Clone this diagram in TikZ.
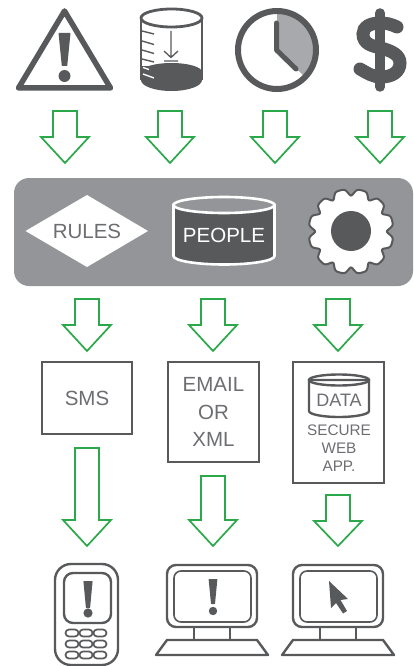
\documentclass[tikz,border=0pt]{standalone}
\usepackage{fontspec}
\setmainfont{Liberation Sans}
\definecolor{dk}{HTML}{58595B}
\definecolor{pan}{HTML}{939598}
\definecolor{lt}{HTML}{A7A9AC}
\definecolor{grn}{HTML}{2BA84A}
\definecolor{txt}{HTML}{6D6E71}
\tikzset{
 garrow/.style={draw=grn,line width=1.7pt,fill=white,line join=miter},
 thinicon/.style={draw=dk,line width=2.4pt,line join=round},
 box/.style={draw=dk,line width=2.4pt,fill=white,inner sep=0pt},
 lbl/.style={text=txt,font=\fontsize{20.5}{25}\selectfont,align=center,inner sep=0pt},
 smalllbl/.style={text=txt,font=\fontsize{15.3}{18}\selectfont,align=center,inner sep=0pt},
}
\newcommand{\garr}[4]{\draw[garrow] (#1-12,#2) -- (#1+12,#2) -- (#1+12,#3) -- (#1+24,#3) -- (#1,#4) -- (#1-24,#3) -- (#1-12,#3) -- cycle;}
\newcommand{\excl}[6]{\fill[dk,rounded corners=0.5pt] (#1-#3,#2) -- (#1+#3,#2) -- (#1+#3*0.45,#4) -- (#1-#3*0.45,#4) -- cycle; \fill[dk] (#1,#5) circle (#6);}
\newcommand{\monitor}[1]{%
 \draw[thinicon] (#1+27,627) -- (#1+27,640) (#1+63,627) -- (#1+63,640);
 \draw[thinicon,rounded corners=9pt] (#1,565) rectangle (#1+90,627);
 \draw[draw=dk,line width=1.6pt,rounded corners=7pt] (#1+7,571) rectangle (#1+84,622);
 \draw[thinicon] (#1,640) -- (#1+90,640) -- (#1+101,655) -- (#1-11,655) -- cycle;}
\begin{document}
\begin{tikzpicture}[x=1pt,y=-1pt]
\useasboundingbox (0,0) rectangle (414,666);
% warning triangle
\draw[draw=dk,line width=5.5pt,line join=round] (64.5,11) -- (110.5,88) -- (18.5,88) -- cycle;
\excl{64.5}{33}{6}{66}{76}{6}
% beaker
\fill[dk] (141,72) arc[start angle=180,end angle=360,x radius=30.5,y radius=9] -- (202,80) arc[start angle=0,end angle=180,x radius=30.5,y radius=11] -- cycle;
\draw[draw=dk,line width=2.8pt] (141,18) -- (141,80) (202,18) -- (202,80);
\draw[draw=dk,line width=2.8pt] (171.5,18) ellipse (30.5 and 9);
\draw[draw=dk,line width=1.4pt] (142,31) -- (154,34) (142,41) -- (154,44.5) (142,50) -- (154,53.5) (142,59) -- (154,62);
\fill[dk] (141,66) -- (152,66) -- (152,72) -- (141,72) -- cycle;
\draw[draw=white,line width=1.4pt] (143,67.5) -- (149,69.5) (143,74) -- (154,78);
\draw[draw=dk,line width=1.3pt] (171,31) -- (171,57) (164,51) -- (171,57.5) -- (178,51) (164,61) -- (178,61);
% clock
\fill[lt] (277,50) -- (277,11) arc[start angle=-90,end angle=44,radius=39] -- cycle;
\draw[draw=dk,line width=6pt] (277,50) circle (39);
\draw[draw=dk,line width=5pt,line cap=round,line join=round] (276.5,23) -- (276.5,50) -- (296,69);
% dollar
\draw[draw=dk,line width=9.5pt,line cap=round] (380,13) -- (380,87);
\draw[draw=dk,line width=13pt,line cap=round] (397,27) .. controls (391,24) and (386,23) .. (380,23) .. controls (370,23) and (363,27) .. (363,34) .. controls (363,44) and (372,46) .. (381,48) .. controls (392,51) and (400,55) .. (400,63) .. controls (400,72) and (392,77) .. (381,77) .. controls (373,77) and (367,73) .. (360,69);
% top arrows
\garr{65}{111}{137}{163}
\garr{170}{111}{137}{163}
\garr{275}{111}{137}{163}
\garr{380}{111}{137}{163}
% panel
\fill[pan,rounded corners=15pt] (14,178) rectangle (413,286);
\fill[white] (25.5,231) -- (87,195) -- (148,231) -- (87,267) -- cycle;
\node[lbl] (rules) at (87,231) {RULES};
% people cylinder
\filldraw[fill=dk,draw=white,line width=2.6pt] (173.5,205) -- (173.5,256) arc[start angle=180,end angle=0,x radius=50.5,y radius=8.5] -- (274.5,205) -- cycle;
\filldraw[fill=pan,draw=white,line width=2.6pt] (224,205) ellipse (50.5 and 8);
\node[lbl,text=white] (people) at (224,235) {PEOPLE};
% gear
\filldraw[fill=white,draw=dk,line width=2pt,smooth,samples=361,domain=0:360] plot ({351+(42.5-6.5*pow(abs(cos(6*\x)),5))*cos(\x)},{231.5+(42.5-6.5*pow(abs(cos(6*\x)),5))*sin(\x)}) -- cycle;
\fill[dk] (351,231) circle (20);
% row 2 arrows
\garr{87}{299}{325}{351}
\garr{213}{299}{325}{351}
\garr{338}{299}{325}{351}
% boxes
\node[box,minimum width=90pt,minimum height=72pt,lbl] (sms) at (87,398) {SMS};
\node[box,minimum width=91pt,minimum height=100pt,lbl,font=\fontsize{20.5}{27.5}\selectfont] (email) at (213.5,412) {EMAIL\\OR\\XML};
\node[box,minimum width=91pt,minimum height=121pt] (data) at (338.5,422.5) {};
\filldraw[fill=white,draw=dk,line width=2.4pt] (309,380) -- (309,411) arc[start angle=180,end angle=0,x radius=30,y radius=6] -- (369,380) -- cycle;
\draw[draw=dk,line width=2.4pt] (339,380) ellipse (30 and 5.5);
\node[lbl,font=\fontsize{18}{20}\selectfont] (datat) at (339,400) {DATA};
\node[smalllbl] (sec) at (339,448) {SECURE\\WEB\\APP.};
% row 3 arrows
\garr{87}{448}{520}{546}
\garr{213}{476}{520}{546}
\garr{338}{495}{521}{546}
% phone
\draw[thinicon,rounded corners=16pt] (55,564) rectangle (118,665);
\draw[thinicon,rounded corners=9pt] (64,573) rectangle (111,623);
\excl{88}{581}{4.6}{608}{613}{4.6}
\foreach \yy in {633,644,655} \foreach \xx in {65.5,79.5,93.5} {
 \draw[draw=dk,line width=1.7pt,rounded corners=3.5pt] (\xx,\yy-3.5) rectangle (\xx+13,\yy+3.5);}
% monitors
\monitor{167}
\excl{213}{579}{4.4}{604}{611}{4.2}
\monitor{293}
\fill[dk] (329,581) -- (348,599) -- (340.5,600) -- (347,611) -- (343,613.5) -- (336,603) -- (331,608) -- cycle;
\end{tikzpicture}
\end{document}
